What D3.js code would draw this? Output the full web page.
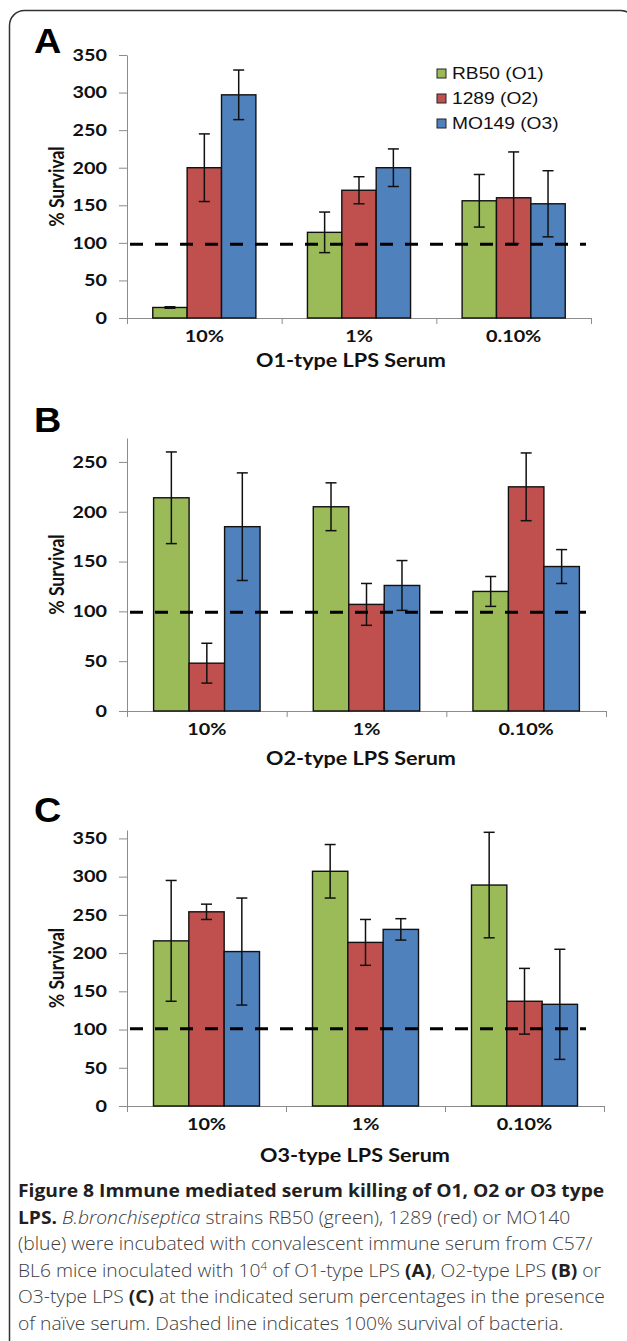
<!DOCTYPE html>
<html>
<head>
<meta charset="utf-8">
<script src="https://cdn.jsdelivr.net/npm/d3@7"></script>
<style>
body { margin: 0; background: #fff; }
svg { display: block; }
</style>
</head>
<body>
<div id="chart-area"></div>
<script>
// data
var categories = ['10%', '1%', '0.10%']
var strains = ['RB50 (O1)', '1289 (O2)', 'MO149 (O3)']
var strainColors = ['#9bbb59', '#c0504d', '#4f81bd']
var panelLetters = ['A', 'B', 'C']
var serumTitles = ['O1-type LPS Serum', 'O2-type LPS Serum', 'O3-type LPS Serum']
var yTicksA = [0, 50, 100, 150, 200, 250, 300, 350]
var yTicksB = [0, 50, 100, 150, 200, 250]
var yTicksC = [0, 50, 100, 150, 200, 250, 300, 350]

// rows = strains, columns = serum percentage
var survivalA = [[14, 114, 156], [200, 170, 160], [297, 200, 152]]
var errorA    = [[1, 27, 35], [45, 18, 61], [33, 25, 44]]
var survivalB = [[214, 205, 120], [48, 107, 225], [185, 126, 145]]
var errorB    = [[46, 24, 15], [20, 21, 34], [54, 25, 17]]
var survivalC = [[216, 307, 289], [254, 214, 137], [202, 231, 133]]
var errorC    = [[79, 35, 69], [10, 30, 43], [70, 14, 72]]
var refLines = [98, 99, 101]

var captionLines = [
	[['Figure 8 Immune mediated serum killing of O1, O2 or O3 type', 'b']],
	[['LPS. ', 'b'], ['B.bronchiseptica', 'i'], [' strains RB50 (green), 1289 (red) or MO140', 'n']],
	[['(blue) were incubated with convalescent immune serum from C57/', 'n']],
	[['BL6 mice inoculated with 10', 'n'], ['4', 's'], [' of O1-type LPS ', 'n'], ['(A)', 'b'], [', O2-type LPS ', 'n'], ['(B)', 'b'], [' or', 'n']],
	[['O3-type LPS ', 'n'], ['(C)', 'b'], [' at the indicated serum percentages in the presence', 'n']],
	[['of naïve serum. Dashed line indicates 100% survival of bacteria.', 'n']]
]

var panels = [
	{values: survivalA, errors: errorA, ticks: yTicksA},
	{values: survivalB, errors: errorB, ticks: yTicksB},
	{values: survivalC, errors: errorC, ticks: yTicksC}
]

// where each panel sits on the page
var layout = [
	{left: 127, right: 591, zeroY: 318, topY: 55, yMax: 350, letterY: 53, titleX: 351, titleDy: 49},
	{left: 127, right: 606, zeroY: 711, topY: 438, yMax: 274, letterY: 432, titleX: 361, titleDy: 54},
	{left: 127, right: 604, zeroY: 1106, topY: 830, yMax: 361, letterY: 822, titleX: 355, titleDy: 56}
]

var width = 627, height = 1341
var sx = 1.2   // the picture is stretched sideways
var axisGrey = '#8c8c8c'
var chartFont = 'Lato, "Open Sans", sans-serif'

var svg = d3.select('#chart-area').append('svg')
	.attr('width', width)
	.attr('height', height)

svg.append('rect').attr('width', width).attr('height', height).attr('fill', '#fff')

// outer frame
svg.append('rect')
	.attr('x', 9.5).attr('y', 10.5)
	.attr('width', 626).attr('height', 1400)
	.attr('rx', 15)
	.attr('fill', 'none')
	.attr('stroke', '#333')
	.attr('stroke-width', 1.5)

panels.forEach(function(p, k){
	var L = layout[k]
	var g = svg.append('g')

	var y = d3.scaleLinear().domain([0, L.yMax]).range([L.zeroY, L.topY])
	var x = d3.scaleBand().domain(categories).range([L.left, L.right])
	var bw = x.bandwidth()
	var xs = d3.scaleBand().domain(d3.range(strains.length)).range([bw / 6, bw * 5 / 6])

	// y axis
	var yAxis = g.append('g')
		.attr('transform', 'translate(' + L.left + ',0)')
		.call(d3.axisLeft(y).tickValues(p.ticks).tickSize(8).tickSizeOuter(0))
	yAxis.select('.domain').attr('stroke', axisGrey)
	yAxis.selectAll('.tick line').attr('stroke', axisGrey)
	yAxis.selectAll('.tick text')
		.attr('x', -20 / sx)
		.attr('transform', 'scale(' + sx + ',1)')
		.attr('font-family', chartFont)
		.attr('font-weight', 'bold')
		.attr('font-size', '16.5px')
		.attr('fill', '#111')

	// x axis: boundary ticks
	var edge = d3.scaleLinear().domain([0, categories.length]).range([L.left, L.right])
	var xAxis = g.append('g')
		.attr('transform', 'translate(0,' + L.zeroY + ')')
		.call(d3.axisBottom(edge).tickValues(d3.range(categories.length + 1)).tickFormat('').tickSize(6).tickSizeOuter(0))
	xAxis.select('.domain').attr('stroke', axisGrey)
	xAxis.selectAll('.tick line').attr('stroke', axisGrey)

	// x axis: category labels
	var xLab = g.append('g')
		.attr('transform', 'translate(0,' + L.zeroY + ')')
		.call(d3.axisBottom(x).tickSize(0).tickPadding(12))
	xLab.select('.domain').remove()
	xLab.selectAll('.tick text')
		.attr('transform', 'scale(' + sx + ',1)')
		.attr('font-family', chartFont)
		.attr('font-weight', 'bold')
		.attr('font-size', '16.5px')
		.attr('fill', '#111')

	// bars
	var groups = g.selectAll('.cat')
		.data(categories)
		.enter().append('g')
		.attr('transform', function(d){ return 'translate(' + x(d) + ',0)' })

	groups.each(function(cat, ci){
		var cg = d3.select(this)
		var rows = strains.map(function(s, si){
			return {si: si, v: p.values[si][ci], e: p.errors[si][ci]}
		})
		cg.selectAll('rect')
			.data(rows)
			.enter().append('rect')
			.attr('x', function(d){ return xs(d.si) })
			.attr('y', function(d){ return y(d.v) })
			.attr('width', xs.bandwidth())
			.attr('height', function(d){ return y(0) - y(d.v) })
			.attr('fill', function(d){ return strainColors[d.si] })
			.attr('stroke', '#111')
			.attr('stroke-width', 1.4)

		// error bars
		var eb = cg.selectAll('.err')
			.data(rows)
			.enter().append('g')
			.attr('stroke', '#111')
			.attr('stroke-width', 1.5)
		eb.append('line')
			.attr('x1', function(d){ return xs(d.si) + xs.bandwidth() / 2 })
			.attr('x2', function(d){ return xs(d.si) + xs.bandwidth() / 2 })
			.attr('y1', function(d){ return y(d.v + d.e) })
			.attr('y2', function(d){ return y(d.v - d.e) })
		;[1, -1].forEach(function(sign){
			eb.append('line')
				.attr('x1', function(d){ return xs(d.si) + xs.bandwidth() / 2 - 5.5 })
				.attr('x2', function(d){ return xs(d.si) + xs.bandwidth() / 2 + 5.5 })
				.attr('y1', function(d){ return y(d.v + sign * d.e) })
				.attr('y2', function(d){ return y(d.v + sign * d.e) })
		})
	})

	// 100% reference line
	g.append('line')
		.attr('x1', L.left + 3).attr('x2', 586)
		.attr('y1', y(refLines[k])).attr('y2', y(refLines[k]))
		.attr('stroke', '#000')
		.attr('stroke-width', 3)
		.attr('stroke-dasharray', '13,12')

	// y title
	g.append('text')
		.attr('transform', 'translate(64,' + (L.zeroY + L.topY) / 2 + ') scale(' + sx + ',1) rotate(-90)')
		.attr('text-anchor', 'middle')
		.attr('font-family', chartFont)
		.attr('font-weight', 'bold')
		.attr('font-size', '17.5px')
		.attr('fill', '#111')
		.text('% Survival')

	// x title
	g.append('text')
		.attr('transform', 'translate(' + L.titleX + ',' + (L.zeroY + L.titleDy) + ') scale(' + sx + ',1)')
		.attr('text-anchor', 'middle')
		.attr('font-family', chartFont)
		.attr('font-weight', 'bold')
		.attr('font-size', '18px')
		.attr('fill', '#111')
		.text(serumTitles[k])

	// panel letter
	g.append('text')
		.attr('transform', 'translate(34,' + L.letterY + ') scale(1.08,1)')
		.attr('font-family', '"Liberation Sans", Arial, sans-serif')
		.attr('font-weight', 'bold')
		.attr('font-size', '35px')
		.attr('fill', '#000')
		.text(panelLetters[k])
})

// legend (panel A only)
var legend = svg.append('g')
var legendRow = d3.scaleBand().domain(strains).range([62, 137])
strains.forEach(function(s, i){
	var ry = legendRow(s)
	legend.append('rect')
		.attr('x', 437).attr('y', ry + 7)
		.attr('width', 9).attr('height', 9)
		.attr('fill', strainColors[i])
		.attr('stroke', '#222')
		.attr('stroke-width', 1)
	legend.append('text')
		.attr('transform', 'translate(452,' + (ry + 16.5) + ') scale(1.2,1)')
		.attr('font-family', '"Liberation Sans", Arial, sans-serif')
		.attr('font-size', '16px')
		.attr('fill', '#111')
		.text(s)
})

// caption
var caption = svg.append('g')
	.attr('font-family', '"Open Sans", sans-serif')
	.attr('font-size', '18px')
captionLines.forEach(function(line, li){
	var t = caption.append('text')
		.attr('transform', 'translate(18,' + (1197 + li * 26.6) + ') scale(1.07,1)')
	var raised = false
	line.forEach(function(seg){
		var ts = t.append('tspan').text(seg[0])
		if (seg[1] == 'b') ts.attr('font-weight', 'bold').attr('fill', '#231f20')
		else ts.attr('font-weight', 300).attr('fill', '#3c3c3c')
		if (seg[1] == 'i') ts.attr('font-style', 'italic')
		if (seg[1] == 's') {
			ts.attr('font-size', '11px').attr('dy', -7)
			raised = true
		} else if (raised) {
			ts.attr('dy', 7)
			raised = false
		}
	})
})
</script>
</body>
</html>
